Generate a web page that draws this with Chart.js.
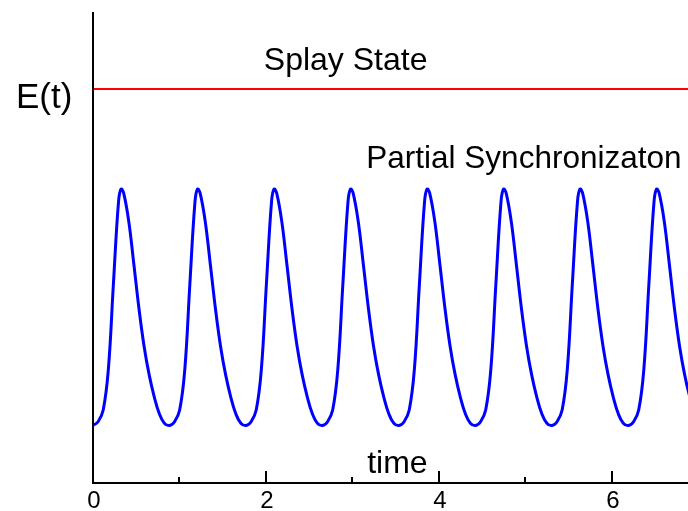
<!DOCTYPE html>
<html>
<head>
<meta charset="utf-8">
<script src="https://cdn.jsdelivr.net/npm/chart.js@4"></script>
<style>
  html, body { margin: 0; padding: 0; background: #fff; }
  canvas { display: block; }
</style>
</head>
<body>
<canvas id="energyChart" width="688" height="511"></canvas>
<script>
// ========================== DATA ==========================
const xMin = 0;
const xMax = 6.879;
const tickValues = [0, 2, 4, 6];

// splay state: flat level
const splayTimes = [0, 6.879];
const splayValues = [0.8365, 0.8365];

// partial synchronization: oscillating E(t)
const syncTimes = [
  0, 0.059, 0.118, 0.177, 0.236, 0.295, 0.324, 0.354, 0.413, 0.472, 0.531, 0.590, 0.649, 0.708, 0.767, 0.825,
  0.884, 0.943, 1.002, 1.061, 1.120, 1.179, 1.208, 1.238, 1.297, 1.356, 1.415, 1.474, 1.533, 1.592, 1.651, 1.709,
  1.769, 1.828, 1.887, 1.946, 2.005, 2.064, 2.093, 2.123, 2.182, 2.241, 2.300, 2.359, 2.418, 2.477, 2.536, 2.594,
  2.653, 2.712, 2.771, 2.830, 2.889, 2.948, 2.977, 3.007, 3.066, 3.125, 3.184, 3.243, 3.302, 3.361, 3.420, 3.478,
  3.538, 3.597, 3.656, 3.715, 3.774, 3.833, 3.862, 3.892, 3.951, 4.010, 4.069, 4.128, 4.187, 4.246, 4.305, 4.363,
  4.422, 4.481, 4.540, 4.599, 4.658, 4.717, 4.746, 4.776, 4.835, 4.894, 4.953, 5.012, 5.071, 5.130, 5.189, 5.247,
  5.306, 5.365, 5.424, 5.483, 5.542, 5.601, 5.630, 5.660, 5.719, 5.778, 5.837, 5.896, 5.955, 6.014, 6.073, 6.131,
  6.191, 6.250, 6.309, 6.368, 6.427, 6.486, 6.515, 6.545, 6.604, 6.663, 6.722, 6.781, 6.840, 6.899, 6.958
];
const syncValues = [
  0.122, 0.130, 0.155, 0.240, 0.423, 0.597, 0.624, 0.616, 0.556, 0.465, 0.371, 0.291, 0.230, 0.183, 0.147, 0.127,
  0.122, 0.130, 0.155, 0.240, 0.423, 0.597, 0.624, 0.616, 0.556, 0.465, 0.371, 0.291, 0.230, 0.183, 0.147, 0.127,
  0.122, 0.130, 0.155, 0.240, 0.423, 0.597, 0.624, 0.616, 0.556, 0.465, 0.371, 0.291, 0.230, 0.183, 0.147, 0.127,
  0.122, 0.130, 0.155, 0.240, 0.423, 0.597, 0.624, 0.616, 0.556, 0.465, 0.371, 0.291, 0.230, 0.183, 0.147, 0.127,
  0.122, 0.130, 0.155, 0.240, 0.423, 0.597, 0.624, 0.616, 0.556, 0.465, 0.371, 0.291, 0.230, 0.183, 0.147, 0.127,
  0.122, 0.130, 0.155, 0.240, 0.423, 0.597, 0.624, 0.616, 0.556, 0.465, 0.371, 0.291, 0.230, 0.183, 0.147, 0.127,
  0.122, 0.130, 0.155, 0.240, 0.423, 0.597, 0.624, 0.616, 0.556, 0.465, 0.371, 0.291, 0.230, 0.183, 0.147, 0.127,
  0.122, 0.130, 0.155, 0.240, 0.423, 0.597, 0.624, 0.616, 0.556, 0.465, 0.371, 0.291, 0.230, 0.183, 0.147
];

// text labels placed in data coordinates
const labels = [
  { text: "Splay State", x: 1.975, y: 0.877, size: 32 },
  { text: "Partial Synchronizaton", x: 3.16, y: 0.668, size: 31.5 },
  { text: "time", x: 3.17, y: 0.021, size: 32 }
];

const FONT = '"Liberation Sans", Arial, sans-serif';

// ========================== HELPERS ==========================
function toPoints(xs, ys){
  return xs.map((x, i) => ({ x: x, y: ys[i] }));
}

// axes with inward ticks, tick labels + text annotations
const decorPlugin = {
  id: "decor",
  afterDraw(chart){
    const ctx = chart.ctx;
    const area = chart.chartArea;
    const xs = chart.scales.x;
    const ys = chart.scales.y;

    ctx.save();
    ctx.strokeStyle = "#000";
    ctx.lineWidth = 2;
    ctx.beginPath();
    ctx.moveTo(area.left, area.top);
    ctx.lineTo(area.left, area.bottom);
    ctx.lineTo(area.right, area.bottom);
    ctx.stroke();

    // major ticks on even, minor on odd
    for(let t = 1; t <= 6; t++){
      const px = Math.round(xs.getPixelForValue(t));
      const len = (t % 2 === 0) ? 12 : 6;
      ctx.beginPath();
      ctx.moveTo(px, area.bottom);
      ctx.lineTo(px, area.bottom - len);
      ctx.stroke();
    }

    ctx.fillStyle = "#000";
    ctx.textBaseline = "alphabetic";

    // tick labels
    ctx.textAlign = "center";
    ctx.font = "24px " + FONT;
    tickValues.forEach(v => {
      ctx.fillText(String(v), xs.getPixelForValue(v) + 1, area.bottom + 25);
    });

    ctx.textAlign = "left";
    labels.forEach(l => {
      ctx.font = l.size + "px " + FONT;
      ctx.fillText(l.text, xs.getPixelForValue(l.x), ys.getPixelForValue(l.y));
    });

    // y axis title
    ctx.font = "35px " + FONT;
    ctx.fillText("E(t)", area.left - 77, ys.getPixelForValue(0.796));
    ctx.restore();
  }
};

// ========================== CHART ==========================
function initChart(){
  const ctx = document.getElementById("energyChart").getContext("2d");
  new Chart(ctx, {
    type: "line",
    data: {
      datasets: [
        {
          label: "Splay State",
          data: toPoints(splayTimes, splayValues),
          borderColor: "#ff0000",
          borderWidth: 2,
          pointRadius: 0,
          fill: false
        },
        {
          label: "Partial Synchronizaton",
          data: toPoints(syncTimes, syncValues),
          borderColor: "#0000ff",
          borderWidth: 3,
          pointRadius: 0,
          fill: false,
          tension: 0.4
        }
      ]
    },
    options: {
      responsive: false,
      animation: false,
      layout: { padding: { left: 93, top: 12, right: 0, bottom: 0 } },
      plugins: { legend: { display: false }, tooltip: { enabled: false } },
      scales: {
        x: {
          type: "linear",
          min: xMin,
          max: xMax,
          grid: { display: false, drawTicks: false },
          border: { display: false },
          afterFit: s => { s.height = 28; },
          ticks: { display: false }
        },
        y: {
          display: false,
          min: 0,
          max: 1
        }
      }
    },
    plugins: [decorPlugin]
  });
}

window.onload = initChart;
</script>
</body>
</html>
